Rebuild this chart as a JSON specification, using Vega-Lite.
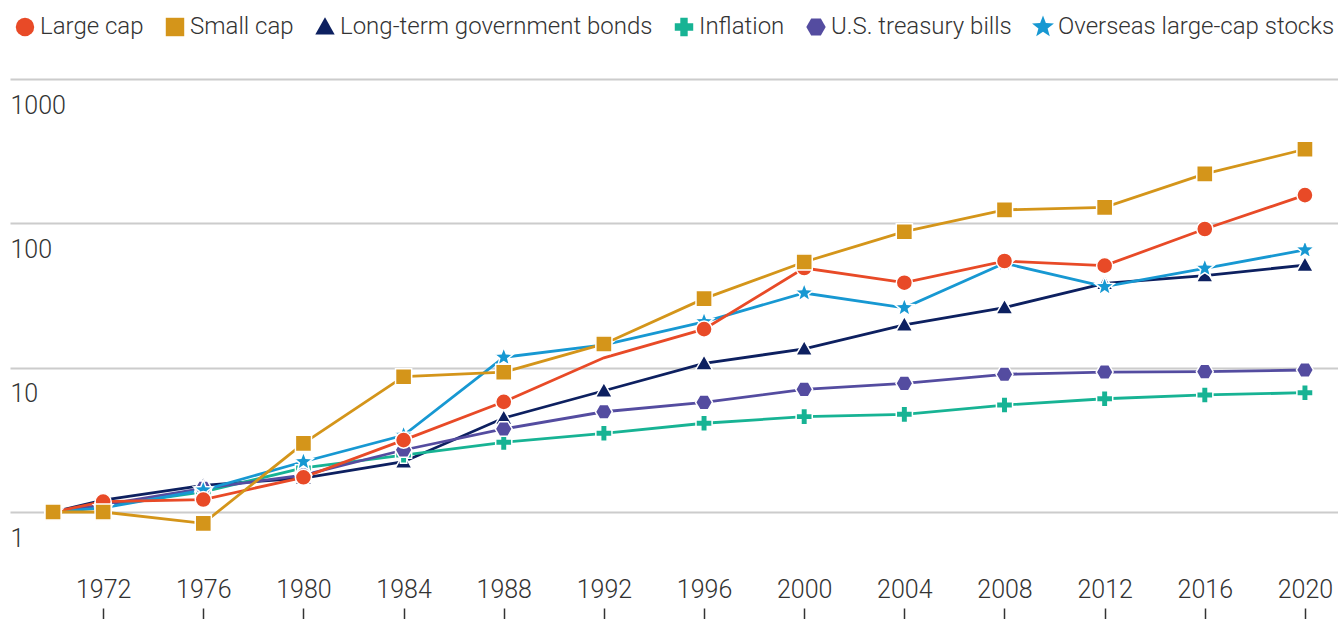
{
  "$schema": "https://vega.github.io/schema/vega-lite/v6.json",
  "autosize": "none",
  "width": 1328,
  "height": 529,
  "padding": {"left": 10, "top": 79, "right": 0, "bottom": 11},
  "background": "white",
  "config": {
    "view": {"stroke": null},
    "font": "Roboto",
    "axis": {"labelFont": "Roboto", "labelFontWeight": 300, "labelColor": "#333333", "labelFontSize": 25},
    "legend": {"labelFont": "Roboto", "labelFontWeight": 300, "labelColor": "#333333", "labelFontSize": 24, "labelLimit": 0}
  },
  "data": {
    "values": [
      {"series": "Long-term government bonds", "year": 1970, "value": 1},
      {"series": "Long-term government bonds", "year": 1972, "value": 1.21},
      {"series": "Long-term government bonds", "year": 1976, "value": 1.53},
      {"series": "Long-term government bonds", "year": 1980, "value": 1.72},
      {"series": "Long-term government bonds", "year": 1984, "value": 2.23},
      {"series": "Long-term government bonds", "year": 1988, "value": 4.48},
      {"series": "Long-term government bonds", "year": 1992, "value": 6.92},
      {"series": "Long-term government bonds", "year": 1996, "value": 10.7},
      {"series": "Long-term government bonds", "year": 2000, "value": 13.5},
      {"series": "Long-term government bonds", "year": 2004, "value": 19.8},
      {"series": "Long-term government bonds", "year": 2008, "value": 26.1},
      {"series": "Long-term government bonds", "year": 2012, "value": 38.4},
      {"series": "Long-term government bonds", "year": 2016, "value": 43.4},
      {"series": "Long-term government bonds", "year": 2020, "value": 51.4},
      {"series": "Inflation", "year": 1970, "value": 1},
      {"series": "Inflation", "year": 1972, "value": 1.1},
      {"series": "Inflation", "year": 1976, "value": 1.38},
      {"series": "Inflation", "year": 1980, "value": 2.02},
      {"series": "Inflation", "year": 1984, "value": 2.48},
      {"series": "Inflation", "year": 1988, "value": 3.04},
      {"series": "Inflation", "year": 1992, "value": 3.51},
      {"series": "Inflation", "year": 1996, "value": 4.12},
      {"series": "Inflation", "year": 2000, "value": 4.58},
      {"series": "Inflation", "year": 2004, "value": 4.75},
      {"series": "Inflation", "year": 2008, "value": 5.51},
      {"series": "Inflation", "year": 2012, "value": 6.09},
      {"series": "Inflation", "year": 2016, "value": 6.47},
      {"series": "Inflation", "year": 2020, "value": 6.71},
      {"series": "U.S. treasury bills", "year": 1970, "value": 1},
      {"series": "U.S. treasury bills", "year": 1972, "value": 1.12},
      {"series": "U.S. treasury bills", "year": 1976, "value": 1.46},
      {"series": "U.S. treasury bills", "year": 1980, "value": 1.8},
      {"series": "U.S. treasury bills", "year": 1984, "value": 2.69},
      {"series": "U.S. treasury bills", "year": 1988, "value": 3.76},
      {"series": "U.S. treasury bills", "year": 1992, "value": 4.95},
      {"series": "U.S. treasury bills", "year": 1996, "value": 5.75},
      {"series": "U.S. treasury bills", "year": 2000, "value": 7.08},
      {"series": "U.S. treasury bills", "year": 2004, "value": 7.79},
      {"series": "U.S. treasury bills", "year": 2008, "value": 9.0},
      {"series": "U.S. treasury bills", "year": 2012, "value": 9.33},
      {"series": "U.S. treasury bills", "year": 2016, "value": 9.38},
      {"series": "U.S. treasury bills", "year": 2020, "value": 9.64},
      {"series": "Overseas large-cap stocks", "year": 1970, "value": 1},
      {"series": "Overseas large-cap stocks", "year": 1972, "value": 1.07},
      {"series": "Overseas large-cap stocks", "year": 1976, "value": 1.42},
      {"series": "Overseas large-cap stocks", "year": 1980, "value": 2.23},
      {"series": "Overseas large-cap stocks", "year": 1984, "value": 3.4},
      {"series": "Overseas large-cap stocks", "year": 1988, "value": 11.8},
      {"series": "Overseas large-cap stocks", "year": 1992, "value": 14.4},
      {"series": "Overseas large-cap stocks", "year": 1996, "value": 20.8},
      {"series": "Overseas large-cap stocks", "year": 2000, "value": 32.9},
      {"series": "Overseas large-cap stocks", "year": 2004, "value": 26.0},
      {"series": "Overseas large-cap stocks", "year": 2008, "value": 52.9},
      {"series": "Overseas large-cap stocks", "year": 2012, "value": 36.4},
      {"series": "Overseas large-cap stocks", "year": 2016, "value": 48.8},
      {"series": "Overseas large-cap stocks", "year": 2020, "value": 65.4},
      {"series": "Large cap", "year": 1970, "value": 1},
      {"series": "Large cap", "year": 1972, "value": 1.18},
      {"series": "Large cap", "year": 1976, "value": 1.22},
      {"series": "Large cap", "year": 1980, "value": 1.74},
      {"series": "Large cap", "year": 1984, "value": 3.15},
      {"series": "Large cap", "year": 1988, "value": 5.8},
      {"series": "Large cap", "year": 1992, "value": 11.7},
      {"series": "Large cap", "year": 1996, "value": 18.5},
      {"series": "Large cap", "year": 2000, "value": 49},
      {"series": "Large cap", "year": 2004, "value": 38.8},
      {"series": "Large cap", "year": 2008, "value": 54.8},
      {"series": "Large cap", "year": 2012, "value": 50.9},
      {"series": "Large cap", "year": 2016, "value": 91.4},
      {"series": "Large cap", "year": 2020, "value": 157},
      {"series": "Small cap", "year": 1970, "value": 1},
      {"series": "Small cap", "year": 1972, "value": 1.0},
      {"series": "Small cap", "year": 1976, "value": 0.835},
      {"series": "Small cap", "year": 1980, "value": 2.99},
      {"series": "Small cap", "year": 1984, "value": 8.66},
      {"series": "Small cap", "year": 1988, "value": 9.3},
      {"series": "Small cap", "year": 1992, "value": 14.6},
      {"series": "Small cap", "year": 1996, "value": 30.1},
      {"series": "Small cap", "year": 2000, "value": 54},
      {"series": "Small cap", "year": 2004, "value": 87.5},
      {"series": "Small cap", "year": 2008, "value": 124},
      {"series": "Small cap", "year": 2012, "value": 129},
      {"series": "Small cap", "year": 2016, "value": 220},
      {"series": "Small cap", "year": 2020, "value": 326}
    ]
  },
  "encoding": {
    "x": {
      "field": "year", "type": "quantitative",
      "scale": {"domain": [1968.28, 2021.32], "nice": false, "zero": false},
      "axis": {
        "title": null, "values": [1972, 1976, 1980, 1984, 1988, 1992, 1996, 2000, 2004, 2008, 2012, 2016, 2020],
        "format": "d", "grid": false, "domain": false,
        "ticks": true, "tickSize": 11, "tickColor": "#333333", "tickWidth": 1.5,
        "labelBaseline": "alphabetic", "labelPadding": -22
      }
    },
    "y": {
      "field": "value", "type": "quantitative",
      "scale": {"type": "log", "domain": [0.2163, 1000], "nice": false},
      "axis": {
        "title": null, "values": [1, 10, 100, 1000], "format": "d",
        "grid": true, "gridColor": "#cccccc", "gridWidth": 2,
        "domain": false, "ticks": false, "tickSize": 0,
        "labelAlign": "left", "labelPadding": 0, "labelBaseline": "alphabetic", "labelOffset": 34
      }
    },
    "color": {
      "field": "series", "type": "nominal",
      "scale": {
        "domain": ["Large cap", "Small cap", "Long-term government bonds", "Inflation", "U.S. treasury bills", "Overseas large-cap stocks"],
        "range": ["#e84a27", "#d4951a", "#0d2060", "#17b394", "#544ca0", "#1798d2"]
      },
      "legend": {
        "title": null, "orient": "none", "direction": "horizontal",
        "legendX": 3, "legendY": -64, "padding": 0, "labelLimit": 0,
        "symbolSize": 340, "symbolStrokeWidth": 0, "labelOffset": 3, "columnPadding": 19
      }
    }
  },
  "layer": [
    {
      "mark": {"type": "line", "strokeWidth": 2.8}
    },
    {
      "transform": [{"filter": "datum.series !== 'Large cap' || datum.year !== 1992"}],
      "mark": {"type": "point", "filled": true, "opacity": 1, "size": 260, "stroke": "white", "strokeWidth": 1.5},
      "encoding": {
        "shape": {
          "field": "series", "type": "nominal",
          "scale": {
            "domain": ["Large cap", "Small cap", "Long-term government bonds", "Inflation", "U.S. treasury bills", "Overseas large-cap stocks"],
            "range": ["circle", "square", "M0,-1.05L1.05,0.8L-1.05,0.8Z", "cross", "M-1.05,0L-0.525,-0.91L0.525,-0.91L1.05,0L0.525,0.91L-0.525,0.91Z", "M0,-1.25L0.309,-0.425L1.189,-0.386L0.499,0.163L0.735,1.011L0,0.525L-0.735,1.011L-0.499,0.163L-1.189,-0.386L-0.309,-0.425Z"]
          },
          "legend": {
            "title": null, "orient": "none", "direction": "horizontal",
            "legendX": 3, "legendY": -64, "padding": 0, "labelLimit": 0,
            "symbolSize": 340, "symbolStrokeWidth": 0, "labelOffset": 3, "columnPadding": 19
          }
        }
      }
    }
  ]
}
